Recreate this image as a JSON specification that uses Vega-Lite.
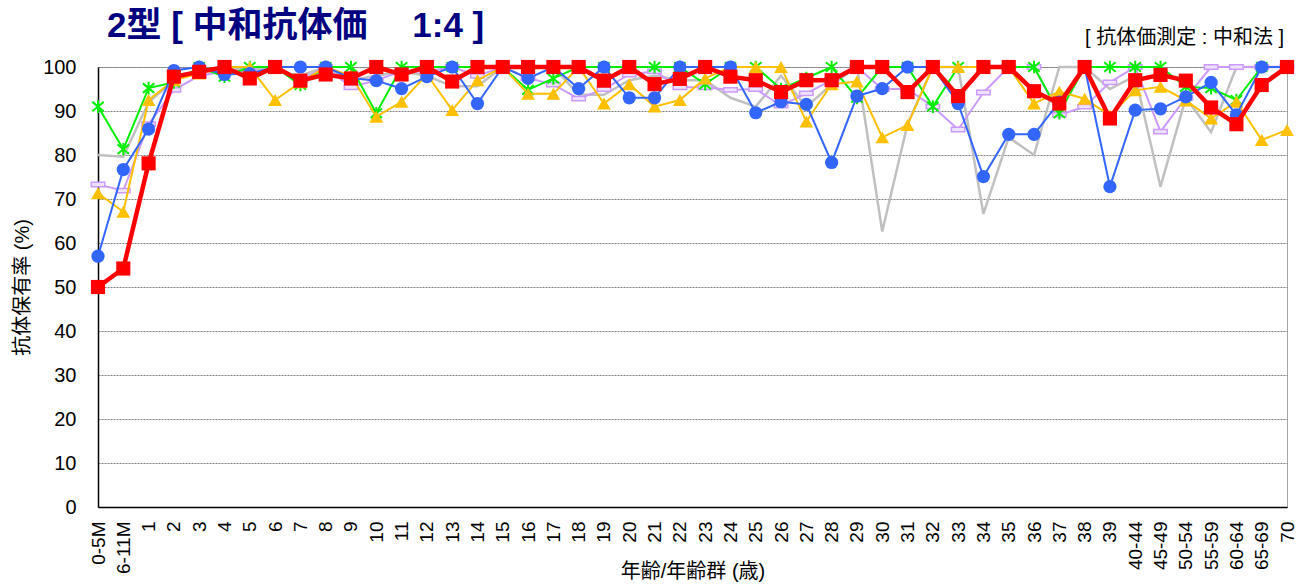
{
  "$schema": "https://vega.github.io/schema/vega-lite/v6.json",
  "width": 1189,
  "height": 440,
  "autosize": {"type": "none"},
  "padding": {"left": 98, "top": 67, "right": 20, "bottom": 78},
  "background": "white",
  "config": {
    "view": {"stroke": "#a6a6a6", "strokeWidth": 1},
    "font": "Liberation Sans, Noto Sans CJK JP, sans-serif"
  },
  "title": {
    "text": "2型 [ 中和抗体価　 1:4 ]",
    "anchor": "start",
    "frame": "group",
    "dx": 9,
    "offset": -44,
    "baseline": "alphabetic",
    "fontSize": 35,
    "fontWeight": "bold",
    "color": "#000080",
    "font": "Liberation Sans, Noto Sans CJK JP, sans-serif"
  },
  "data": {
    "values": [
      {"age": "0-5M", "k": 80, "p": 73.3, "g": 91, "y": 71.3, "b": 57, "r": 50},
      {"age": "6-11M", "k": 79.6, "p": 71.9, "g": 81.3, "y": 67.1, "b": 76.7, "r": 54.2},
      {"age": "1", "k": 92, "p": 87, "g": 95.2, "y": 92.5, "b": 85.9, "r": 78.1},
      {"age": "2", "k": 97, "p": 94.8, "g": 96.5, "y": 97, "b": 99.2, "r": 97.8},
      {"age": "3", "k": 99, "p": 98, "g": 100, "y": 98.5, "b": 100, "r": 98.9},
      {"age": "4", "k": 99, "p": 99, "g": 97.8, "y": 100, "b": 98.3, "r": 100},
      {"age": "5", "k": 100, "p": 99, "g": 100, "y": 100, "b": 98.5, "r": 97.4},
      {"age": "6", "k": 99, "p": 99.5, "g": 100, "y": 92.5, "b": 100, "r": 100},
      {"age": "7", "k": 98, "p": 97, "g": 95.9, "y": 96.5, "b": 100, "r": 96.9},
      {"age": "8", "k": 100, "p": 100, "g": 100, "y": 100, "b": 100, "r": 98.3},
      {"age": "9", "k": 97, "p": 95.4, "g": 100, "y": 98, "b": 97.5, "r": 97.4},
      {"age": "10", "k": 98, "p": 97, "g": 89.5, "y": 88.7, "b": 96.9, "r": 100},
      {"age": "11", "k": 99, "p": 99, "g": 100, "y": 92.1, "b": 95.1, "r": 98.3},
      {"age": "12", "k": 98, "p": 99, "g": 100, "y": 98.3, "b": 97.8, "r": 100},
      {"age": "13", "k": 95.6, "p": 100, "g": 100, "y": 90.2, "b": 100, "r": 96.7},
      {"age": "14", "k": 95.6, "p": 98, "g": 100, "y": 97, "b": 91.7, "r": 100},
      {"age": "15", "k": 100, "p": 100, "g": 100, "y": 100, "b": 100, "r": 100},
      {"age": "16", "k": 100, "p": 97.5, "g": 94.8, "y": 93.9, "b": 97.4, "r": 100},
      {"age": "17", "k": 100, "p": 96, "g": 97.4, "y": 93.9, "b": 100, "r": 100},
      {"age": "18", "k": 93.7, "p": 92.8, "g": 100, "y": 100, "b": 95.1, "r": 100},
      {"age": "19", "k": 93.7, "p": 95, "g": 100, "y": 91.7, "b": 100, "r": 96.9},
      {"age": "20", "k": 97, "p": 98.3, "g": 100, "y": 96.1, "b": 93, "r": 100},
      {"age": "21", "k": 98, "p": 99, "g": 100, "y": 91, "b": 93, "r": 96.1},
      {"age": "22", "k": 97, "p": 95.4, "g": 100, "y": 92.5, "b": 100, "r": 97.3},
      {"age": "23", "k": 97, "p": 95.4, "g": 96.1, "y": 97.4, "b": 100, "r": 100},
      {"age": "24", "k": 93, "p": 94.8, "g": 100, "y": 100, "b": 100, "r": 97.8},
      {"age": "25", "k": 91, "p": 95, "g": 100, "y": 100, "b": 89.6, "r": 97},
      {"age": "26", "k": 98, "p": 91.2, "g": 95, "y": 100, "b": 92.1, "r": 94.3},
      {"age": "27", "k": 91, "p": 94, "g": 97.5, "y": 87.6, "b": 91.5, "r": 97},
      {"age": "28", "k": 96, "p": 97, "g": 100, "y": 96.1, "b": 78.3, "r": 97},
      {"age": "29", "k": 100, "p": 100, "g": 93, "y": 96.7, "b": 93.4, "r": 100},
      {"age": "30", "k": 62.6, "p": 95, "g": 100, "y": 84, "b": 95.1, "r": 100},
      {"age": "31", "k": 87, "p": 95, "g": 100, "y": 86.8, "b": 100, "r": 94.3},
      {"age": "32", "k": 100, "p": 91, "g": 91, "y": 100, "b": 100, "r": 100},
      {"age": "33", "k": 100, "p": 85.8, "g": 100, "y": 100, "b": 91.7, "r": 93.4},
      {"age": "34", "k": 66.6, "p": 94.2, "g": 100, "y": 100, "b": 75.1, "r": 100},
      {"age": "35", "k": 84, "p": 100, "g": 100, "y": 100, "b": 84.7, "r": 100},
      {"age": "36", "k": 80, "p": 100, "g": 100, "y": 91.7, "b": 84.7, "r": 94.5},
      {"age": "37", "k": 100, "p": 89.1, "g": 89.5, "y": 94.4, "b": 92, "r": 91.7},
      {"age": "38", "k": 100, "p": 91, "g": 100, "y": 92.8, "b": 100, "r": 100},
      {"age": "39", "k": 95, "p": 96.5, "g": 100, "y": 89, "b": 72.8, "r": 88.3},
      {"age": "40-44", "k": 98, "p": 100, "g": 100, "y": 94.7, "b": 90.2, "r": 97},
      {"age": "45-49", "k": 72.8, "p": 85.3, "g": 100, "y": 95.5, "b": 90.5, "r": 98.2},
      {"age": "50-54", "k": 93, "p": 93, "g": 95.5, "y": 92.4, "b": 93.2, "r": 96.9},
      {"age": "55-59", "k": 85.2, "p": 100, "g": 95.2, "y": 88.3, "b": 96.5, "r": 90.8},
      {"age": "60-64", "k": 100, "p": 100, "g": 92.5, "y": 92.1, "b": 89.1, "r": 87},
      {"age": "65-69", "k": 100, "p": 100, "g": 100, "y": 83.4, "b": 100, "r": 95.9},
      {"age": "70", "k": 100, "p": 100, "g": 100, "y": 85.7, "b": 100, "r": 100}
    ]
  },
  "transform": [{"fold": ["k", "p", "g", "y", "b", "r"], "as": ["s", "v"]}],
  "encoding": {
    "x": {
      "field": "age",
      "type": "ordinal",
      "scale": {
        "type": "point",
        "padding": 0,
        "domain": ["0-5M", "6-11M", "1", "2", "3", "4", "5", "6", "7", "8", "9", "10", "11", "12", "13", "14", "15", "16", "17", "18", "19", "20", "21", "22", "23", "24", "25", "26", "27", "28", "29", "30", "31", "32", "33", "34", "35", "36", "37", "38", "39", "40-44", "45-49", "50-54", "55-59", "60-64", "65-69", "70"]
      },
      "axis": {
        "title": "年齢/年齢群 (歳)",
        "labelAngle": -90,
        "labelAlign": "right",
        "labelBaseline": "middle",
        "labelFontSize": 19,
        "labelColor": "#000",
        "labelPadding": 14,
        "ticks": false,
        "grid": false,
        "domainColor": "#000",
        "domainWidth": 1.5,
        "titleFontSize": 20,
        "titleFontWeight": "normal",
        "titleColor": "#000",
        "titleY": 70,
        "titleBaseline": "alphabetic"
      }
    },
    "y": {
      "field": "v",
      "type": "quantitative",
      "scale": {"domain": [0, 100], "nice": false, "zero": true},
      "axis": {
        "title": "抗体保有率 (%)",
        "values": [0, 10, 20, 30, 40, 50, 60, 70, 80, 90, 100],
        "grid": true,
        "gridColor": "#808080",
        "gridDash": [2, 1],
        "gridWidth": 1,
        "ticks": false,
        "domainColor": "#000",
        "domainWidth": 1.5,
        "labelFontSize": 20,
        "labelColor": "#000",
        "labelPadding": 22,
        "titleFontSize": 20,
        "titleFontWeight": "normal",
        "titleColor": "#000",
        "titlePadding": 10
      }
    }
  },
  "layer": [
    {"transform": [{"filter": "datum.s === 'k'"}], "mark": {"type": "line", "color": "#c0c0c0", "strokeWidth": 2.5}},
    {"transform": [{"filter": "datum.s === 'p'"}], "mark": {"type": "line", "color": "#cc99ff", "strokeWidth": 2}},
    {"transform": [{"filter": "datum.s === 'p'"}], "mark": {"type": "point", "shape": "M-1,-0.32L1,-0.32L1,0.32L-1,0.32Z", "filled": true, "fill": "#efe4ff", "stroke": "#cc99ff", "strokeWidth": 1.5, "size": 180, "opacity": 1}},
    {"transform": [{"filter": "datum.s === 'g'"}], "mark": {"type": "line", "color": "#00ee00", "strokeWidth": 2}},
    {"transform": [{"filter": "datum.s === 'g'"}], "mark": {"type": "point", "shape": "M-0.9,-0.75L0.9,0.75M-0.9,0.75L0.9,-0.75M0,-1L0,1", "filled": false, "stroke": "#00ee00", "strokeWidth": 2, "size": 160, "opacity": 1}},
    {"transform": [{"filter": "datum.s === 'y'"}], "mark": {"type": "line", "color": "#ffc000", "strokeWidth": 2}},
    {"transform": [{"filter": "datum.s === 'y'"}], "mark": {"type": "point", "shape": "triangle-up", "filled": true, "color": "#ffc000", "size": 190, "opacity": 1}},
    {"transform": [{"filter": "datum.s === 'b'"}], "mark": {"type": "line", "color": "#3366ff", "strokeWidth": 2}},
    {"transform": [{"filter": "datum.s === 'b'"}], "mark": {"type": "point", "shape": "circle", "filled": true, "color": "#3366ff", "size": 175, "opacity": 1}},
    {"transform": [{"filter": "datum.s === 'r'"}], "mark": {"type": "line", "color": "#ff0000", "strokeWidth": 4.5}},
    {"transform": [{"filter": "datum.s === 'r'"}], "mark": {"type": "point", "shape": "square", "filled": true, "color": "#ff0000", "size": 200, "opacity": 1}},
    {
      "transform": [{"filter": "datum.s === 'r' && datum.age === '70'"}],
      "mark": {"type": "text", "align": "right", "baseline": "middle", "dx": -3, "dy": -29, "fontSize": 20, "color": "#000", "font": "Liberation Sans, Noto Sans CJK JP, sans-serif"},
      "encoding": {"y": {"datum": 100}, "text": {"value": "[ 抗体価測定 : 中和法 ]"}}
    }
  ]
}
